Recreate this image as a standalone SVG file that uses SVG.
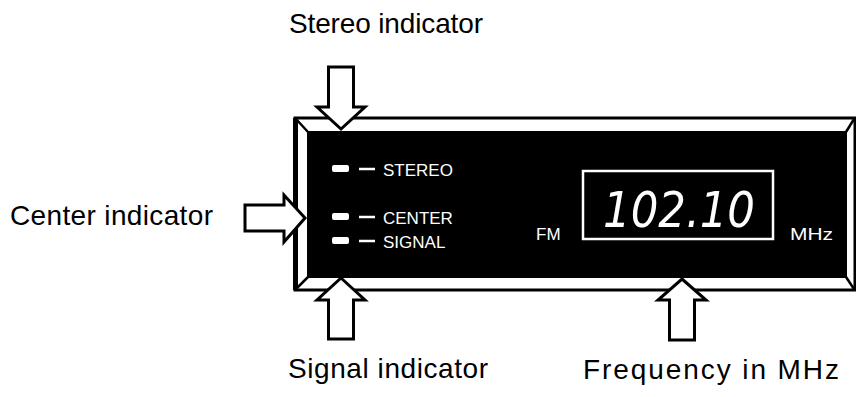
<svg xmlns="http://www.w3.org/2000/svg" width="856" height="397" viewBox="0 0 856 397">
<style>
.lbl{font-family:"Liberation Sans",Arial,sans-serif;font-size:28px;fill:#000}
.pnl{font-family:"Liberation Sans",Arial,sans-serif;font-size:17px;fill:#fff}
.arrow{fill:#fff;stroke:#000;stroke-width:3;stroke-linejoin:miter}
.led{fill:#fff}
.dash{stroke:#fff;stroke-width:2.5}
</style>
<rect width="856" height="397" fill="#fff"/>
<g id="display-panel">
  <path d="M295,118 L855,118 L855,290 L295,290 Z" fill="#fff" stroke="#000" stroke-width="3"/>
  <rect x="293" y="118" width="5" height="172" fill="#000"/>
  <rect x="307" y="131" width="540" height="147" fill="#000"/>
  <g stroke="#000" stroke-width="2.5" fill="none">
    <line x1="296" y1="119" x2="308" y2="132"/>
    <line x1="296" y1="289" x2="308" y2="277"/>
    <line x1="854" y1="119" x2="846" y2="132"/>
    <line x1="854" y1="289" x2="846" y2="277"/>
  </g>
  <g id="stereo-led">
    <rect class="led" x="332" y="165" width="17" height="7" rx="2"/>
    <line class="dash" x1="359" y1="169" x2="375" y2="169"/>
    <text class="pnl" x="383" y="176">STEREO</text>
  </g>
  <g id="center-led">
    <rect class="led" x="332" y="213" width="17" height="7" rx="2"/>
    <line class="dash" x1="359" y1="217" x2="375" y2="217"/>
    <text class="pnl" x="383" y="224">CENTER</text>
  </g>
  <g id="signal-led">
    <rect class="led" x="332" y="237" width="17" height="7" rx="2"/>
    <line class="dash" x1="359" y1="241" x2="375" y2="241"/>
    <text class="pnl" x="383" y="248">SIGNAL</text>
  </g>
  <text class="pnl" x="536" y="240" font-size="19">FM</text>
  <g id="frequency-readout">
    <rect x="583" y="171" width="190" height="68" fill="none" stroke="#fff" stroke-width="2.5"/>
    <text x="603" y="227" font-family="DejaVu Sans Condensed,DejaVu Sans,sans-serif" font-style="italic" font-size="50" fill="#fff" textLength="152" lengthAdjust="spacingAndGlyphs">102.10</text>
  </g>
  <text class="pnl" x="790" y="240" font-size="19" textLength="43" lengthAdjust="spacingAndGlyphs">MHz</text>
</g>
<g id="connectors">
  <polygon id="stereo-arrow" class="arrow" points="328.5,67 353.5,67 353.5,107 365,107 341,129 317,107 328.5,107"/>
  <polygon id="center-arrow" class="arrow" points="245,205 284,205 284,195 305,218 284,242 284,231 245,231"/>
  <polygon id="signal-arrow" class="arrow" points="341,278 365,300 353.5,300 353.5,339 328.5,339 328.5,300 317,300"/>
  <polygon id="frequency-arrow" class="arrow" points="682,279 706,300 694.5,300 694.5,340 669.5,340 669.5,300 658,300"/>
</g>
<g id="stereo-label"><text class="lbl" x="289" y="33" textLength="194">Stereo indicator</text></g>
<g id="center-label"><text class="lbl" x="10" y="225" textLength="203">Center indicator</text></g>
<g id="signal-label"><text class="lbl" x="288" y="378" textLength="200">Signal indicator</text></g>
<g id="frequency-label"><text class="lbl" x="583" y="379" font-size="30" textLength="256">Frequency in MHz</text></g>
</svg>
